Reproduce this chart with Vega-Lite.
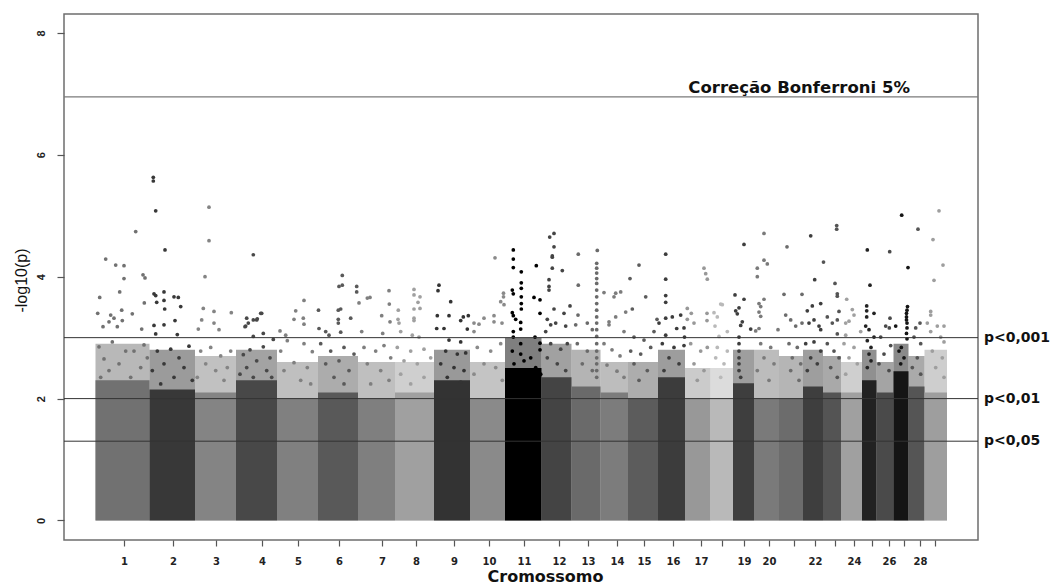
{
"$schema": "https://vega.github.io/schema/vega-lite/v6.json",
"autosize": {"type": "none"},
"width": 914, "height": 526,
"padding": {"left": 64, "top": 14, "right": 79, "bottom": 45},
"background": "white",
"config": {"view": {"stroke": "#6e6e6e", "strokeWidth": 1.5}, "axis": {"grid": false, "domain": false, "labelOverlap": false}, "axisX": {"labelOverlap": false, "labelFlush": false}},
"resolve": {"axis": {"x": "independent"}},
"datasets": {
"chrom": [
{"c":1,"x":31.5,"x2":85.5,"y":2.3,"u":2.9},{"c":2,"x":85.5,"x2":131,"y":2.15,"u":2.8},{"c":3,"x":131,"x2":172,"y":2.1,"u":2.7},{"c":4,"x":172,"x2":213,"y":2.3,"u":2.8},{"c":5,"x":213,"x2":254,"y":2.0,"u":2.6},{"c":6,"x":254,"x2":294,"y":2.1,"u":2.7},{"c":7,"x":294,"x2":331,"y":2.0,"u":2.6},{"c":8,"x":331,"x2":370,"y":2.1,"u":2.6},{"c":9,"x":370,"x2":406,"y":2.3,"u":2.8},{"c":10,"x":406,"x2":441,"y":2.0,"u":2.6},{"c":11,"x":441,"x2":477.5,"y":2.5,"u":3.0},{"c":12,"x":477.5,"x2":507.5,"y":2.35,"u":2.9},{"c":13,"x":507.5,"x2":536.5,"y":2.2,"u":2.8},{"c":14,"x":536.5,"x2":564,"y":2.1,"u":2.6},{"c":15,"x":564,"x2":594,"y":2.0,"u":2.6},{"c":16,"x":594,"x2":621,"y":2.35,"u":2.8},{"c":17,"x":621,"x2":646.5,"y":2.0,"u":2.5},{"c":18,"x":646.5,"x2":669,"y":2.0,"u":2.5},{"c":19,"x":669,"x2":690,"y":2.25,"u":2.8},{"c":20,"x":690,"x2":715,"y":2.0,"u":2.8},{"c":21,"x":715,"x2":739,"y":2.0,"u":2.7},{"c":22,"x":739,"x2":759,"y":2.2,"u":2.8},{"c":23,"x":759,"x2":777,"y":2.1,"u":2.7},{"c":24,"x":777,"x2":798,"y":2.1,"u":2.6},{"c":25,"x":798,"x2":812.5,"y":2.3,"u":2.8},{"c":26,"x":812.5,"x2":829.5,"y":2.1,"u":2.6},{"c":27,"x":829.5,"x2":844.5,"y":2.45,"u":2.9},{"c":28,"x":844.5,"x2":860.5,"y":2.2,"u":2.7},{"c":29,"x":860.5,"x2":883,"y":2.1,"u":2.8}
],
"snp": [
{"c":1,"x":41.7,"y":4.29},{"c":1,"x":51.7,"y":4.19},{"c":1,"x":60,"y":4.18},{"c":1,"x":60,"y":3.97},{"c":1,"x":71.7,"y":4.74},{"c":1,"x":79,"y":4.03},{"c":1,"x":81,"y":3.98},{"c":1,"x":35.7,"y":3.66},{"c":1,"x":55.7,"y":3.75},{"c":1,"x":33.7,"y":3.4},{"c":1,"x":46.7,"y":3.37},{"c":1,"x":50,"y":3.32},{"c":1,"x":57.7,"y":3.45},{"c":1,"x":68.3,"y":3.39},{"c":1,"x":80.3,"y":3.57},{"c":1,"x":39,"y":3.18},{"c":1,"x":45,"y":3.26},{"c":1,"x":53.3,"y":3.18},{"c":1,"x":58.3,"y":3.28},{"c":1,"x":77.7,"y":3.14},{"c":1,"x":35,"y":2.85},{"c":1,"x":48.3,"y":2.93},{"c":1,"x":61.7,"y":2.78},{"c":1,"x":70,"y":2.78},{"c":1,"x":80,"y":2.88},{"c":1,"x":40,"y":2.65},{"c":1,"x":55,"y":2.57},{"c":1,"x":76.7,"y":2.51},{"c":1,"x":45,"y":2.46},{"c":1,"x":66.7,"y":2.35},{"c":1,"x":36.7,"y":2.35},{"c":1,"x":83.3,"y":2.67},
{"c":2,"x":89.3,"y":5.63},{"c":2,"x":89.3,"y":5.57},{"c":2,"x":91.7,"y":5.08},{"c":2,"x":101,"y":4.44},{"c":2,"x":90,"y":3.72},{"c":2,"x":91.7,"y":3.69},{"c":2,"x":100,"y":3.75},{"c":2,"x":92.7,"y":3.58},{"c":2,"x":100,"y":3.61},{"c":2,"x":110,"y":3.67},{"c":2,"x":114.3,"y":3.66},{"c":2,"x":100.7,"y":3.47},{"c":2,"x":116.7,"y":3.51},{"c":2,"x":111,"y":3.28},{"c":2,"x":90,"y":3.2},{"c":2,"x":100,"y":3.21},{"c":2,"x":113.3,"y":3.05},{"c":2,"x":91.7,"y":3.06},{"c":2,"x":125,"y":2.86},{"c":2,"x":93.3,"y":2.78},{"c":2,"x":106.7,"y":2.81},{"c":2,"x":115,"y":2.67},{"c":2,"x":100,"y":2.57},{"c":2,"x":88.3,"y":2.46},{"c":2,"x":120,"y":2.51},{"c":2,"x":110,"y":2.35},{"c":2,"x":128.3,"y":2.3},{"c":2,"x":96.7,"y":2.24},
{"c":3,"x":145,"y":5.14},{"c":3,"x":145,"y":4.59},{"c":3,"x":141,"y":4.0},{"c":3,"x":139.3,"y":3.48},{"c":3,"x":150,"y":3.43},{"c":3,"x":167.3,"y":3.41},{"c":3,"x":137.7,"y":3.29},{"c":3,"x":150,"y":3.24},{"c":3,"x":134.3,"y":3.14},{"c":3,"x":155,"y":3.13},{"c":3,"x":136.7,"y":2.78},{"c":3,"x":146.7,"y":2.84},{"c":3,"x":156.7,"y":2.7},{"c":3,"x":166.7,"y":2.78},{"c":3,"x":141.7,"y":2.57},{"c":3,"x":151.7,"y":2.46},{"c":3,"x":163.3,"y":2.51},{"c":3,"x":133.3,"y":2.35},{"c":3,"x":160,"y":2.3},
{"c":4,"x":189.3,"y":4.36},{"c":4,"x":197.7,"y":3.4},{"c":4,"x":189.3,"y":3.29},{"c":4,"x":184.3,"y":3.24},{"c":4,"x":181,"y":3.18},{"c":4,"x":192.7,"y":3.29},{"c":4,"x":199.3,"y":3.07},{"c":4,"x":189.3,"y":3.02},{"c":4,"x":209.3,"y":2.97},{"c":4,"x":186,"y":2.8},{"c":4,"x":199.3,"y":2.85},{"c":4,"x":179.3,"y":2.72},{"c":4,"x":206,"y":2.67},{"c":4,"x":192.7,"y":2.62},{"c":4,"x":182.7,"y":2.51},{"c":4,"x":202.7,"y":2.46},{"c":4,"x":189.3,"y":2.35},{"c":4,"x":176,"y":2.4},{"c":4,"x":207.7,"y":2.35},{"c":4,"x":182.7,"y":3.32},{"c":4,"x":181.7,"y":3.19},{"c":4,"x":196.7,"y":3.4},{"c":4,"x":193.3,"y":3.31},
{"c":5,"x":231.7,"y":3.44},{"c":5,"x":240,"y":3.61},{"c":5,"x":230,"y":3.3},{"c":5,"x":239.3,"y":3.32},{"c":5,"x":240,"y":3.22},{"c":5,"x":221.7,"y":3.04},{"c":5,"x":216,"y":3.11},{"c":5,"x":223.3,"y":2.95},{"c":5,"x":240,"y":2.9},{"c":5,"x":248.3,"y":2.77},{"c":5,"x":216.7,"y":2.78},{"c":5,"x":230,"y":2.59},{"c":5,"x":243.3,"y":2.51},{"c":5,"x":220,"y":2.46},{"c":5,"x":236.7,"y":2.3},{"c":5,"x":246.7,"y":2.24},
{"c":6,"x":278.3,"y":4.02},{"c":6,"x":275,"y":3.84},{"c":6,"x":278.3,"y":3.86},{"c":6,"x":292.7,"y":3.84},{"c":6,"x":292.7,"y":3.75},{"c":6,"x":276.7,"y":3.47},{"c":6,"x":274.3,"y":3.45},{"c":6,"x":254.5,"y":3.45},{"c":6,"x":286.7,"y":3.32},{"c":6,"x":274.3,"y":3.3},{"c":6,"x":274.3,"y":3.24},{"c":6,"x":261.7,"y":3.1},{"c":6,"x":265,"y":3.04},{"c":6,"x":276.7,"y":3.09},{"c":6,"x":255,"y":3.15},{"c":6,"x":256.7,"y":2.9},{"c":6,"x":266.7,"y":2.78},{"c":6,"x":280,"y":2.84},{"c":6,"x":290,"y":2.73},{"c":6,"x":261.7,"y":2.57},{"c":6,"x":275,"y":2.62},{"c":6,"x":285,"y":2.46},{"c":6,"x":270,"y":2.35},{"c":6,"x":280,"y":2.24},
{"c":7,"x":295,"y":3.57},{"c":7,"x":306,"y":3.66},{"c":7,"x":303.3,"y":3.65},{"c":7,"x":325,"y":3.77},{"c":7,"x":325.3,"y":3.55},{"c":7,"x":317.7,"y":3.36},{"c":7,"x":326,"y":3.26},{"c":7,"x":318.7,"y":3.07},{"c":7,"x":297.7,"y":3.1},{"c":7,"x":300,"y":2.84},{"c":7,"x":311.7,"y":2.78},{"c":7,"x":320,"y":2.87},{"c":7,"x":326.7,"y":2.67},{"c":7,"x":303.3,"y":2.57},{"c":7,"x":316.7,"y":2.46},{"c":7,"x":325,"y":2.3},{"c":7,"x":306.7,"y":2.24},
{"c":8,"x":350,"y":3.79},{"c":8,"x":350,"y":3.7},{"c":8,"x":356,"y":3.67},{"c":8,"x":354,"y":3.58},{"c":8,"x":356,"y":3.48},{"c":8,"x":350,"y":3.47},{"c":8,"x":334.3,"y":3.45},{"c":8,"x":350,"y":3.32},{"c":8,"x":350,"y":3.28},{"c":8,"x":334,"y":3.3},{"c":8,"x":335,"y":3.24},{"c":8,"x":336.7,"y":3.1},{"c":8,"x":348.3,"y":3.04},{"c":8,"x":355,"y":3.01},{"c":8,"x":333.3,"y":2.84},{"c":8,"x":346.7,"y":2.78},{"c":8,"x":360,"y":2.81},{"c":8,"x":340,"y":2.62},{"c":8,"x":353.3,"y":2.57},{"c":8,"x":366.7,"y":2.67},{"c":8,"x":336.7,"y":2.4},{"c":8,"x":360,"y":2.35},{"c":8,"x":346.7,"y":2.24},
{"c":9,"x":375,"y":3.86},{"c":9,"x":374,"y":3.77},{"c":9,"x":386.7,"y":3.59},{"c":9,"x":373.3,"y":3.36},{"c":9,"x":385,"y":3.36},{"c":9,"x":396.7,"y":3.28},{"c":9,"x":399.3,"y":3.34},{"c":9,"x":404.3,"y":3.36},{"c":9,"x":372.7,"y":3.15},{"c":9,"x":380,"y":3.15},{"c":9,"x":403.3,"y":3.14},{"c":9,"x":385,"y":2.96},{"c":9,"x":396.7,"y":2.93},{"c":9,"x":381.7,"y":2.78},{"c":9,"x":393.3,"y":2.73},{"c":9,"x":401.7,"y":2.75},{"c":9,"x":376.7,"y":2.57},{"c":9,"x":390,"y":2.51},{"c":9,"x":400,"y":2.46},{"c":9,"x":383.3,"y":2.35},{"c":9,"x":396.7,"y":2.27},
{"c":10,"x":431,"y":4.31},{"c":10,"x":439.5,"y":3.73},{"c":10,"x":439.5,"y":3.67},{"c":10,"x":436.7,"y":3.59},{"c":10,"x":440,"y":3.54},{"c":10,"x":420,"y":3.32},{"c":10,"x":430,"y":3.36},{"c":10,"x":430,"y":3.26},{"c":10,"x":410,"y":3.24},{"c":10,"x":415,"y":3.22},{"c":10,"x":410,"y":3.1},{"c":10,"x":438,"y":3.24},{"c":10,"x":413.3,"y":2.84},{"c":10,"x":426.7,"y":2.78},{"c":10,"x":436.7,"y":2.9},{"c":10,"x":420,"y":2.57},{"c":10,"x":431.7,"y":2.51},{"c":10,"x":410,"y":2.4},{"c":10,"x":438.3,"y":2.3},
{"c":11,"x":449.3,"y":4.44},{"c":11,"x":449.3,"y":4.29},{"c":11,"x":449.3,"y":4.15},{"c":11,"x":457.3,"y":4.08},{"c":11,"x":472.3,"y":4.18},{"c":11,"x":457.3,"y":3.9},{"c":11,"x":457.3,"y":3.81},{"c":11,"x":457.3,"y":3.67},{"c":11,"x":457.3,"y":3.56},{"c":11,"x":457.3,"y":3.47},{"c":11,"x":448.3,"y":3.78},{"c":11,"x":449.3,"y":3.72},{"c":11,"x":470,"y":3.66},{"c":11,"x":476,"y":3.62},{"c":11,"x":476,"y":3.4},{"c":11,"x":448.3,"y":3.41},{"c":11,"x":449.3,"y":3.36},{"c":11,"x":451.7,"y":3.3},{"c":11,"x":456.7,"y":3.25},{"c":11,"x":456.7,"y":3.14},{"c":11,"x":449.3,"y":3.1},{"c":11,"x":449.3,"y":3.01},{"c":11,"x":471,"y":3.01},{"c":11,"x":476,"y":2.91},{"c":11,"x":476,"y":2.8},{"c":11,"x":456.7,"y":2.9},{"c":11,"x":456.7,"y":2.73},{"c":11,"x":460,"y":2.62},{"c":11,"x":448.3,"y":2.78},{"c":11,"x":450,"y":2.57},{"c":11,"x":446.7,"y":2.46},{"c":11,"x":466.7,"y":2.67},{"c":11,"x":471.7,"y":2.51},{"c":11,"x":476.7,"y":2.4},{"c":11,"x":443.3,"y":2.3},{"c":11,"x":463.3,"y":2.24},{"c":11,"x":473.3,"y":2.24},{"c":11,"x":453.3,"y":2.35},
{"c":12,"x":485.7,"y":4.65},{"c":12,"x":490,"y":4.71},{"c":12,"x":490,"y":4.49},{"c":12,"x":488.3,"y":4.34},{"c":12,"x":488.3,"y":4.32},{"c":12,"x":488.3,"y":4.14},{"c":12,"x":498.3,"y":4.1},{"c":12,"x":485,"y":3.95},{"c":12,"x":485,"y":3.84},{"c":12,"x":485,"y":3.78},{"c":12,"x":506,"y":3.52},{"c":12,"x":490,"y":3.47},{"c":12,"x":500,"y":3.4},{"c":12,"x":483.3,"y":3.3},{"c":12,"x":486.7,"y":3.21},{"c":12,"x":491.7,"y":3.24},{"c":12,"x":501.7,"y":3.19},{"c":12,"x":481.7,"y":3.1},{"c":12,"x":486.7,"y":2.9},{"c":12,"x":496.7,"y":2.81},{"c":12,"x":503.3,"y":2.9},{"c":12,"x":483.3,"y":2.67},{"c":12,"x":493.3,"y":2.57},{"c":12,"x":501.7,"y":2.46},
{"c":13,"x":514.3,"y":4.37},{"c":13,"x":514.3,"y":3.86},{"c":13,"x":533.3,"y":4.43},{"c":13,"x":532.7,"y":4.22},{"c":13,"x":532.7,"y":4.14},{"c":13,"x":532.7,"y":4.06},{"c":13,"x":532.7,"y":3.97},{"c":13,"x":532.7,"y":3.89},{"c":13,"x":532.7,"y":3.78},{"c":13,"x":532.7,"y":3.67},{"c":13,"x":532.7,"y":3.56},{"c":13,"x":532.7,"y":3.45},{"c":13,"x":532.7,"y":3.34},{"c":13,"x":532.7,"y":3.24},{"c":13,"x":532.7,"y":3.13},{"c":13,"x":532.7,"y":3.02},{"c":13,"x":514,"y":3.37},{"c":13,"x":511.7,"y":3.21},{"c":13,"x":523.3,"y":3.24},{"c":13,"x":528.3,"y":3.13},{"c":13,"x":513.3,"y":2.9},{"c":13,"x":523.3,"y":2.78},{"c":13,"x":518.3,"y":2.57},{"c":13,"x":528.3,"y":2.46},{"c":13,"x":532.7,"y":2.9},{"c":13,"x":532.7,"y":2.78},{"c":13,"x":532.7,"y":2.67},{"c":13,"x":532.7,"y":2.57},{"c":13,"x":532.7,"y":2.46},{"c":13,"x":532.7,"y":2.35},
{"c":14,"x":540,"y":3.74},{"c":14,"x":551.7,"y":3.73},{"c":14,"x":550,"y":3.67},{"c":14,"x":556.7,"y":3.75},{"c":14,"x":545,"y":3.26},{"c":14,"x":545,"y":3.21},{"c":14,"x":551.7,"y":3.34},{"c":14,"x":561.7,"y":3.42},{"c":14,"x":560,"y":3.1},{"c":14,"x":540,"y":2.9},{"c":14,"x":548,"y":2.8},{"c":14,"x":556,"y":2.7},{"c":14,"x":543,"y":2.55},{"c":14,"x":553,"y":2.45},{"c":14,"x":560,"y":2.35},
{"c":15,"x":575,"y":4.19},{"c":15,"x":566,"y":3.97},{"c":15,"x":581.7,"y":3.67},{"c":15,"x":568.3,"y":3.47},{"c":15,"x":593,"y":3.3},{"c":15,"x":590,"y":3.1},{"c":15,"x":580,"y":2.96},{"c":15,"x":570,"y":3.01},{"c":15,"x":566.7,"y":2.78},{"c":15,"x":576.7,"y":2.73},{"c":15,"x":586.7,"y":2.84},{"c":15,"x":570,"y":2.57},{"c":15,"x":583.3,"y":2.46},{"c":15,"x":575,"y":2.3},
{"c":16,"x":601.7,"y":4.37},{"c":16,"x":601.7,"y":3.96},{"c":16,"x":601.7,"y":3.69},{"c":16,"x":601.7,"y":3.58},{"c":16,"x":595,"y":3.24},{"c":16,"x":601.7,"y":3.32},{"c":16,"x":608.3,"y":3.34},{"c":16,"x":616.7,"y":3.37},{"c":16,"x":612.7,"y":3.15},{"c":16,"x":620,"y":3.16},{"c":16,"x":601.7,"y":3.04},{"c":16,"x":620.5,"y":3.01},{"c":16,"x":598.3,"y":2.9},{"c":16,"x":610,"y":2.84},{"c":16,"x":620,"y":2.87},{"c":16,"x":605,"y":2.67},{"c":16,"x":615,"y":2.57},{"c":16,"x":600,"y":2.46},
{"c":17,"x":640,"y":4.14},{"c":17,"x":641.7,"y":4.05},{"c":17,"x":643.3,"y":3.96},{"c":17,"x":623.3,"y":3.48},{"c":17,"x":627.3,"y":3.4},{"c":17,"x":623.3,"y":3.3},{"c":17,"x":630,"y":3.24},{"c":17,"x":643,"y":3.4},{"c":17,"x":643,"y":3.28},{"c":17,"x":626.7,"y":2.9},{"c":17,"x":636.7,"y":2.78},{"c":17,"x":643.3,"y":2.84},{"c":17,"x":630,"y":2.57},{"c":17,"x":640,"y":2.46},{"c":17,"x":633.3,"y":2.3},
{"c":18,"x":656.7,"y":3.55},{"c":18,"x":658.3,"y":3.54},{"c":18,"x":650,"y":3.41},{"c":18,"x":653.3,"y":3.34},{"c":18,"x":651,"y":3.19},{"c":18,"x":663.3,"y":3.1},{"c":18,"x":655,"y":3.02},{"c":18,"x":653.3,"y":2.84},{"c":18,"x":663.3,"y":2.78},{"c":18,"x":651.7,"y":2.67},{"c":18,"x":660,"y":2.57},{"c":18,"x":656.7,"y":2.35},
{"c":19,"x":680,"y":4.53},{"c":19,"x":671,"y":3.7},{"c":19,"x":671.7,"y":3.44},{"c":19,"x":675,"y":3.49},{"c":19,"x":673.3,"y":3.39},{"c":19,"x":678.3,"y":3.26},{"c":19,"x":676.7,"y":3.2},{"c":19,"x":675,"y":3.01},{"c":19,"x":675,"y":2.9},{"c":19,"x":675,"y":2.78},{"c":19,"x":675,"y":2.67},{"c":19,"x":675,"y":2.57},{"c":19,"x":675,"y":2.46},{"c":19,"x":676.7,"y":2.35},{"c":19,"x":680,"y":3.63},{"c":19,"x":686.7,"y":3.14},
{"c":20,"x":700,"y":4.71},{"c":20,"x":700,"y":4.27},{"c":20,"x":703.3,"y":4.21},{"c":20,"x":693.3,"y":4.14},{"c":20,"x":693.3,"y":4.0},{"c":20,"x":700,"y":3.63},{"c":20,"x":695,"y":3.56},{"c":20,"x":696.7,"y":3.51},{"c":20,"x":695,"y":3.42},{"c":20,"x":696.7,"y":3.35},{"c":20,"x":695,"y":3.15},{"c":20,"x":691.7,"y":3.11},{"c":20,"x":714,"y":3.13},{"c":20,"x":696.7,"y":2.9},{"c":20,"x":706.7,"y":2.84},{"c":20,"x":700,"y":2.67},{"c":20,"x":710,"y":2.57},{"c":20,"x":693.3,"y":2.46},{"c":20,"x":705,"y":2.3},
{"c":21,"x":723,"y":4.49},{"c":21,"x":720,"y":3.71},{"c":21,"x":738,"y":3.71},{"c":21,"x":721.7,"y":3.37},{"c":21,"x":726.7,"y":3.29},{"c":21,"x":731.7,"y":3.19},{"c":21,"x":738,"y":3.24},{"c":21,"x":725,"y":2.9},{"c":21,"x":733.3,"y":2.84},{"c":21,"x":728.3,"y":2.67},{"c":21,"x":736.7,"y":2.57},{"c":21,"x":726.7,"y":2.46},{"c":21,"x":735,"y":2.3},
{"c":22,"x":746.7,"y":4.67},{"c":22,"x":750.7,"y":3.95},{"c":22,"x":743.3,"y":3.44},{"c":22,"x":748.3,"y":3.52},{"c":22,"x":756.7,"y":3.56},{"c":22,"x":750,"y":3.29},{"c":22,"x":755,"y":3.19},{"c":22,"x":756.7,"y":3.13},{"c":22,"x":745,"y":3.24},{"c":22,"x":741.7,"y":2.9},{"c":22,"x":750,"y":2.93},{"c":22,"x":756.7,"y":2.78},{"c":22,"x":746.7,"y":2.67},{"c":22,"x":753.3,"y":2.57},{"c":22,"x":743.3,"y":2.46},
{"c":23,"x":759.5,"y":4.24},{"c":23,"x":771,"y":3.89},{"c":23,"x":772.7,"y":4.84},{"c":23,"x":772.7,"y":4.78},{"c":23,"x":773.3,"y":3.72},{"c":23,"x":773.3,"y":3.68},{"c":23,"x":768.3,"y":3.24},{"c":23,"x":773.3,"y":3.29},{"c":23,"x":775,"y":3.43},{"c":23,"x":763.3,"y":3.34},{"c":23,"x":773.3,"y":3.06},{"c":23,"x":763.3,"y":2.9},{"c":23,"x":770,"y":2.78},{"c":23,"x":775,"y":2.67},{"c":23,"x":766.7,"y":2.51},{"c":23,"x":773.3,"y":2.35},
{"c":24,"x":782.7,"y":3.63},{"c":24,"x":788.3,"y":3.46},{"c":24,"x":790,"y":3.37},{"c":24,"x":781.7,"y":3.24},{"c":24,"x":785,"y":3.27},{"c":24,"x":796.7,"y":3.1},{"c":24,"x":781.7,"y":3.04},{"c":24,"x":780,"y":2.9},{"c":24,"x":790,"y":2.84},{"c":24,"x":785,"y":2.67},{"c":24,"x":793.3,"y":2.57},{"c":24,"x":781.7,"y":2.4},
{"c":25,"x":803.3,"y":4.44},{"c":25,"x":806,"y":3.86},{"c":25,"x":802.7,"y":3.52},{"c":25,"x":802.7,"y":3.44},{"c":25,"x":802.7,"y":3.34},{"c":25,"x":810,"y":3.4},{"c":25,"x":801.7,"y":3.19},{"c":25,"x":805,"y":3.13},{"c":25,"x":803.3,"y":2.95},{"c":25,"x":807,"y":2.84},{"c":25,"x":805,"y":2.73},{"c":25,"x":807,"y":2.62},{"c":25,"x":803.3,"y":2.51},{"c":25,"x":810,"y":3.01},
{"c":26,"x":825.7,"y":4.41},{"c":26,"x":826,"y":3.32},{"c":26,"x":825.3,"y":3.16},{"c":26,"x":821.7,"y":3.19},{"c":26,"x":816.7,"y":3.01},{"c":26,"x":826.7,"y":2.87},{"c":26,"x":820,"y":2.73},{"c":26,"x":815,"y":2.57},{"c":26,"x":825,"y":2.46},
{"c":27,"x":837.7,"y":5.01},{"c":27,"x":844,"y":4.15},{"c":27,"x":843.5,"y":3.51},{"c":27,"x":843,"y":3.45},{"c":27,"x":842.5,"y":3.4},{"c":27,"x":842.5,"y":3.34},{"c":27,"x":842.5,"y":3.29},{"c":27,"x":843,"y":3.24},{"c":27,"x":843,"y":3.16},{"c":27,"x":842.5,"y":3.07},{"c":27,"x":843,"y":2.98},{"c":27,"x":837.3,"y":2.84},{"c":27,"x":835,"y":2.78},{"c":27,"x":840,"y":2.67},{"c":27,"x":836.7,"y":2.57},{"c":27,"x":831.7,"y":3.19},
{"c":28,"x":854,"y":4.78},{"c":28,"x":856,"y":3.24},{"c":28,"x":851.7,"y":3.16},{"c":28,"x":850,"y":3.01},{"c":28,"x":856.7,"y":2.9},{"c":28,"x":853.3,"y":2.67},{"c":28,"x":848.3,"y":2.51},{"c":28,"x":856.7,"y":2.4},
{"c":29,"x":875,"y":5.08},{"c":29,"x":869,"y":4.61},{"c":29,"x":879,"y":4.19},{"c":29,"x":870,"y":3.94},{"c":29,"x":866.7,"y":3.43},{"c":29,"x":866.7,"y":3.37},{"c":29,"x":863.3,"y":3.24},{"c":29,"x":873.3,"y":3.19},{"c":29,"x":880,"y":3.19},{"c":29,"x":866.7,"y":3.1},{"c":29,"x":876.7,"y":3.01},{"c":29,"x":880,"y":2.93},{"c":29,"x":868.3,"y":2.78},{"c":29,"x":878.3,"y":2.67},{"c":29,"x":871.7,"y":2.51},{"c":29,"x":880,"y":2.35}
],
"plines": [{"y":3,"lab":"p<0,001"},{"y":2,"lab":"p<0,01"},{"y":1.301,"lab":"p<0,05"}],
"bonf": [{"y":6.95,"lab":"Correção Bonferroni 5%"}]
},
"encoding": {
"y": {"field": "y", "type": "quantitative", "scale": {"domain": [-0.32, 8.31], "nice": false, "zero": false},
 "axis": {"values": [0,2,4,6,8], "title": "-log10(p)", "labelAngle": -90, "labelAlign": "center", "labelBaseline": "bottom", "labelFont": "Liberation Sans", "labelFontWeight": "bold", "labelFontSize": 11, "labelColor": "#222", "labelPadding": 11, "tickSize": 7, "tickColor": "#555", "tickWidth": 1.2, "titleFont": "Liberation Sans", "titleFontSize": 16, "titleFontWeight": "normal", "titleColor": "#111", "titleAngle": -90, "titleAlign": "center", "titleBaseline": "bottom", "titleX": -35, "titleY": 266}}
},
"layer": [
{"encoding": {
 "x": {"field": "x", "type": "quantitative", "scale": {"domain": [0, 914], "nice": false, "zero": false},
  "axis": {"values": [60,109,152,198,234,275,318,352,390,425,460,495,524,553,580,609,637,658,680,705,730,751,771,790,808,825,840,856,871],
   "labelExpr": "['1','2','3','4','5','6','7','8','9','10','11','12','13','14','15','16','17','','19','20','','22','','24','','26','','28',''][indexof([60,109,152,198,234,275,318,352,390,425,460,495,524,553,580,609,637,658,680,705,730,751,771,790,808,825,840,856,871], datum.value)]",
   "labelOverlap": false, "labelFlush": false, "labelBound": false,
   "labelFont": "DejaVu Sans", "labelFontWeight": "bold", "labelFontSize": 10, "labelColor": "#222", "labelPadding": 10,
   "tickSize": 6, "tickColor": "#555", "tickWidth": 1.2,
   "title": "Cromossomo", "titleFont": "DejaVu Sans", "titleFontSize": 16, "titleFontWeight": "bold", "titleColor": "#111",
   "titleX": 481, "titleY": 41, "titleBaseline": "alphabetic", "titleAlign": "center"}},
 "color": {"field": "c", "type": "ordinal", "legend": null,
  "scale": {"domain": [1,2,3,4,5,6,7,8,9,10,11,12,13,14,15,16,17,18,19,20,21,22,23,24,25,26,27,28,29],
   "range": ["#717171","#383838","#848484","#484848","#808080","#595959","#7f7f7f","#a0a0a0","#333333","#8a8a8a","#000000","#444444","#6a6a6a","#7c7c7c","#5c5c5c","#3c3c3c","#989898","#b9b9b9","#3e3e3e","#7a7a7a","#6c6c6c","#3e3e3e","#545454","#a0a0a0","#222222","#4a4a4a","#151515","#555555","#9e9e9e"]}}
 },
 "layer": [
  {"data": {"name": "chrom"}, "mark": {"type": "rect", "opacity": 0.5},
   "encoding": {"x2": {"field": "x2"}, "y": {"field": "u", "type": "quantitative"}, "y2": {"datum": 0}}},
  {"data": {"name": "chrom"}, "mark": {"type": "rect"},
   "encoding": {"x2": {"field": "x2"}, "y2": {"datum": 0}}},
  {"data": {"name": "snp"}, "mark": {"type": "circle", "size": 14, "opacity": 1}}
 ]},
{"data": {"name": "plines"}, "mark": {"type": "rule", "color": "#333", "strokeWidth": 1},
 "encoding": {"x": {"datum": 0, "type": "quantitative", "axis": null}, "x2": {"datum": 914}}},
{"data": {"name": "bonf"}, "mark": {"type": "rule", "color": "#7a7a7a", "strokeWidth": 1.4},
 "encoding": {"x": {"datum": 0, "type": "quantitative", "axis": null}, "x2": {"datum": 914}}},
{"data": {"name": "plines"}, "mark": {"type": "text", "align": "left", "baseline": "alphabetic", "dx": 6, "dy": 4, "font": "DejaVu Sans", "fontWeight": "bold", "fontSize": 14, "color": "#111", "clip": false},
 "encoding": {"x": {"datum": 914, "type": "quantitative", "axis": null}, "text": {"field": "lab"}}},
{"data": {"name": "bonf"}, "mark": {"type": "text", "align": "right", "baseline": "alphabetic", "dy": -4, "font": "DejaVu Sans", "fontWeight": "bold", "fontSize": 16.5, "color": "#111"},
 "encoding": {"x": {"datum": 846, "type": "quantitative", "axis": null}, "text": {"field": "lab"}}}
]
}
